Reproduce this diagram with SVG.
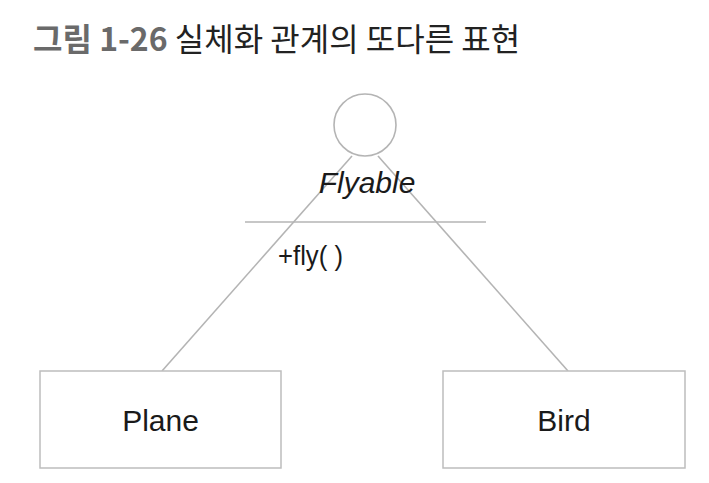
<svg xmlns="http://www.w3.org/2000/svg" width="709" height="483" viewBox="0 0 709 483">
<style>
.ln{stroke:#b4b4b4;stroke-width:1.6;fill:none}
.bx{stroke:#bdbdbd;stroke-width:1.5;fill:#fff}
.t{font-family:"Liberation Sans",Arial,sans-serif;fill:#1a1a1a}
</style>
<rect width="709" height="483" fill="#fff"/>
<text x="33" y="51" font-family="'Noto Sans CJK KR','Liberation Sans',sans-serif" font-size="32" fill="#222"><tspan font-weight="bold" fill="#6a6a6a">그림 1-26</tspan> 실체화 관계의 또다른 표현</text>
<g id="connectors">
<line class="ln" x1="352" y1="156" x2="162" y2="371"/>
<line class="ln" x1="378" y1="156" x2="568" y2="371"/>
</g>
<g id="flyable">
<circle class="ln" cx="365" cy="125" r="31"/>
<text class="t" x="367" y="193" font-size="30" font-style="italic" text-anchor="middle">Flyable</text>
<line class="ln" x1="245" y1="222" x2="486" y2="222"/>
<text class="t" x="278" y="265" font-size="27" textLength="65" lengthAdjust="spacingAndGlyphs">+fly( )</text>
</g>
<g id="plane">
<rect class="bx" x="40" y="371" width="241" height="97"/>
<text class="t" x="160.5" y="431" font-size="30" text-anchor="middle">Plane</text>
</g>
<g id="bird">
<rect class="bx" x="443" y="371" width="242" height="97"/>
<text class="t" x="564" y="431" font-size="30" text-anchor="middle">Bird</text>
</g>
</svg>
